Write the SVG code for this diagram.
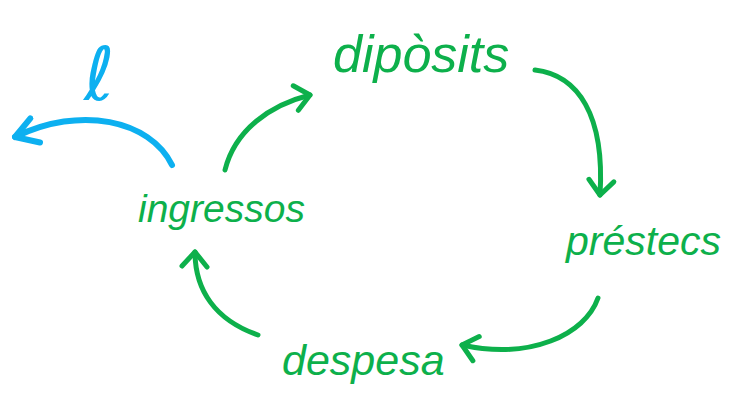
<svg xmlns="http://www.w3.org/2000/svg" width="734" height="409" viewBox="0 0 734 409">
<style>
.lbl{font-family:"Liberation Sans","DejaVu Sans",sans-serif;fill:#0db04b;font-style:italic}
.g{fill:none;stroke:#0db04b;stroke-width:5;stroke-linecap:round;stroke-linejoin:round}
.b{fill:none;stroke:#0db0f0;stroke-width:6;stroke-linecap:round;stroke-linejoin:round}
</style>
<defs>
<marker id="ag" viewBox="-20 -20 40 40" markerWidth="40" markerHeight="40" refX="0" refY="0" orient="auto" markerUnits="userSpaceOnUse">
<path d="M-14,-13 L0,0 L-15,12" fill="none" stroke="#0db04b" stroke-width="5" stroke-linecap="round" stroke-linejoin="round"/>
</marker>
<marker id="ab" viewBox="-25 -25 50 50" markerWidth="50" markerHeight="50" refX="0" refY="0" orient="auto" markerUnits="userSpaceOnUse">
<path d="M-20,-16 L0,0 L-22,10" fill="none" stroke="#0db0f0" stroke-width="6" stroke-linecap="round" stroke-linejoin="round"/>
</marker>
</defs>
<g id="connectors">
<path class="g" d="M225,170 C235,130 270,105 310,95" marker-end="url(#ag)"/>
<path class="g" d="M535,70 C578,75 605,115 600,195" marker-end="url(#ag)"/>
<path class="g" d="M598,298 C585,335 530,360 462,345" marker-end="url(#ag)"/>
<path class="g" d="M258,335 C215,320 195,290 195,252" marker-end="url(#ag)"/>
<path class="b" d="M172,165 C150,120 80,105 15,137" marker-end="url(#ab)"/>
</g>
<g id="diposits"><text class="lbl" x="333" y="72" font-size="52">dipòsits</text></g>
<g id="prestecs"><text class="lbl" x="566" y="255" font-size="41">préstecs</text></g>
<g id="despesa"><text class="lbl" x="282" y="375" font-size="43">despesa</text></g>
<g id="ingressos"><text class="lbl" x="138" y="222" font-size="39">ingressos</text></g>
<g id="l"><text x="84" y="100" font-family="DejaVu Sans,sans-serif" font-size="74" fill="#0db0f0">ℓ</text></g>
</svg>
